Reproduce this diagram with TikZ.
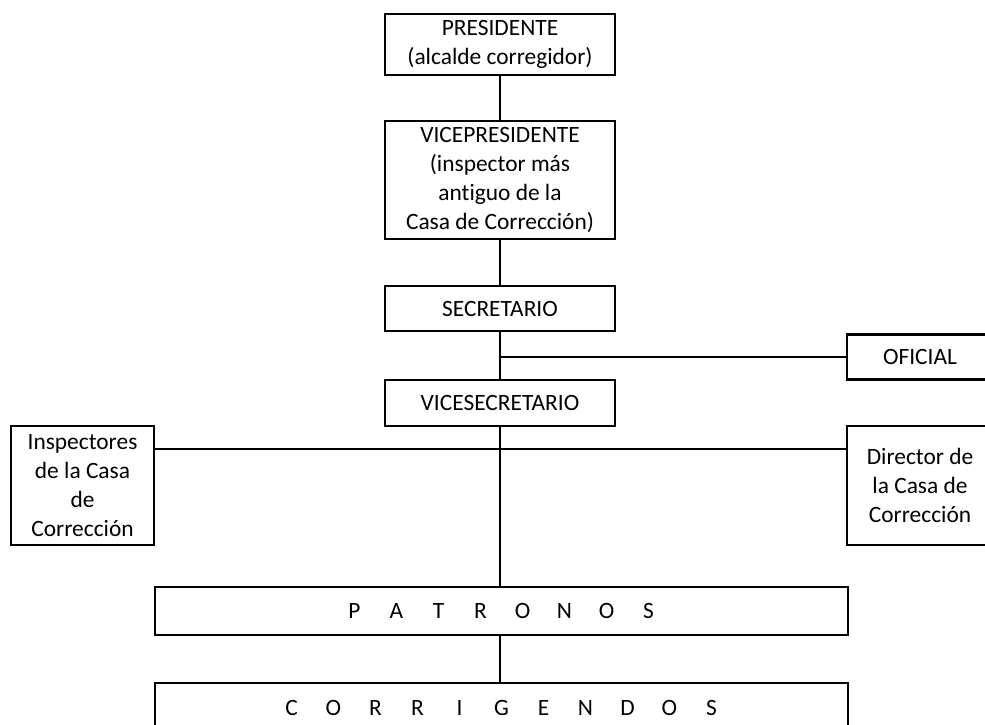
\documentclass[tikz,border=0pt]{standalone}
\usepackage{fontspec}
\setmainfont{Carlito}[Ligatures=NoCommon]
\newcommand\ltrcell[1]{\makebox[42pt]{#1}}
\begin{document}
\begin{tikzpicture}[x=1pt,y=-1pt,
  box/.style={draw=black, line width=2.4pt, align=center, inner sep=0pt,
    font=\fontsize{23.4}{29}\selectfont, text=black},
  link/.style={draw=black, line width=2.4pt}]
\useasboundingbox (0,0) rectangle (985,724);
\clip (0,0) rectangle (985,724);

\node[box, minimum width=230pt, minimum height=61pt] (pres) at (500,44.5)
  {PRESIDENTE\\(alcalde corregidor)};
\node[box, minimum width=230pt, minimum height=118pt] (vp) at (500,180)
  {VICEPRESIDENTE\\(inspector más\\antiguo de la\\Casa de Corrección)};
\node[box, minimum width=230pt, minimum height=45pt] (sec) at (500,308.5)
  {SECRETARIO};
\node[box, minimum width=146pt, minimum height=45pt] (ofi) at (920,357)
  {OFICIAL};
\node[box, minimum width=230pt, minimum height=46pt] (vsec) at (500,403)
  {VICESECRETARIO};
\node[box, minimum width=143pt, minimum height=119pt] (insp) at (82.5,485.5)
  {Inspectores\\de la Casa\\de\\Corrección};
\node[box, minimum width=146pt, minimum height=119pt] (dir) at (920,485.5)
  {Director de\\la Casa de\\Corrección};
\node[box, minimum width=693pt, minimum height=48pt] (pat) at (501.5,611)
  {\ltrcell{P}\ltrcell{A}\ltrcell{T}\ltrcell{R}\ltrcell{O}\ltrcell{N}\ltrcell{O}\ltrcell{S}};
\node[box, minimum width=693pt, minimum height=50pt] (cor) at (501.5,708)
  {\ltrcell{C}\ltrcell{O}\ltrcell{R}\ltrcell{R}\ltrcell{I}\ltrcell{G}\ltrcell{E}\ltrcell{N}\ltrcell{D}\ltrcell{O}\ltrcell{S}};

\coordinate (hline) at (500,449);
\draw[link] (pres.south) -- (vp.north);
\draw[link] (vp.south) -- (sec.north);
\draw[link] (sec.south) -- (vsec.north);
\draw[link] (sec.south |- ofi.west) -- (ofi.west);
\draw[link] (insp.east |- hline) -- (dir.west |- hline);
\draw[link] (vsec.south) -- (vsec.south |- pat.north);
\draw[link] (vsec.south |- pat.south) -- (vsec.south |- cor.north);
\end{tikzpicture}
\end{document}
